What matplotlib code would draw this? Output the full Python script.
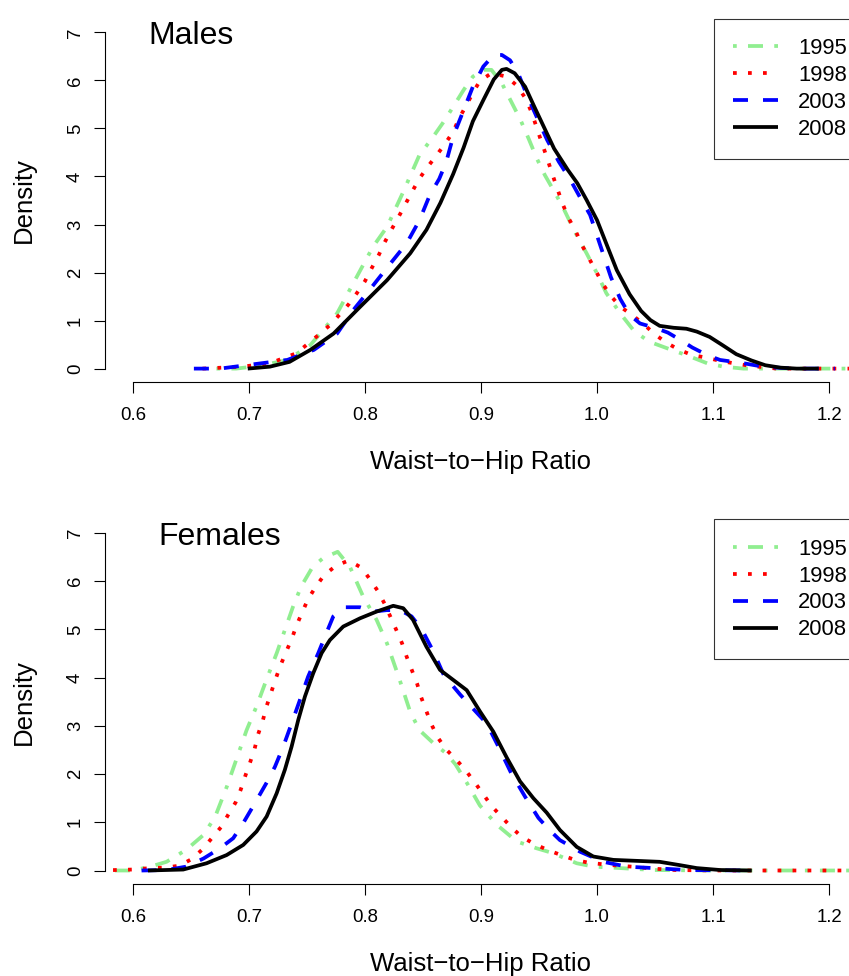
import matplotlib
matplotlib.use("Agg")
import matplotlib.pyplot as plt

plt.rcParams['font.family'] = ['Liberation Sans', 'DejaVu Sans']

years = ["1995", "1998", "2003", "2008"]
colors = ["#90EE90", "#FF0000", "#0000FF", "#000000"]
line_styles = [(0, (1, 3, 4, 3)), (0, (1, 3)), (0, (4, 4)), "-"]

x_ticks = [0.6, 0.7, 0.8, 0.9, 1.0, 1.1, 1.2]
x_tick_labels = ["0.6", "0.7", "0.8", "0.9", "1.0", "1.1", "1.2"]
y_ticks = [0, 1, 2, 3, 4, 5, 6, 7]

# ---- Males: kernel density of waist-to-hip ratio by survey year ----
male_1995_x = [0.672, 0.689, 0.710, 0.733, 0.753, 0.776, 0.790, 0.807, 0.819, 0.833,
               0.847, 0.858, 0.867, 0.876, 0.885, 0.893, 0.902, 0.909, 0.918, 0.926,
               0.934, 0.941, 0.948, 0.955, 0.964, 0.971, 0.980, 0.991, 1.000, 1.008,
               1.020, 1.032, 1.045, 1.063, 1.077, 1.095, 1.109, 1.126, 1.150, 1.180,
               1.210, 1.230]
male_1995_y = [0.00, 0.00, 0.06, 0.18, 0.49, 1.15, 1.78, 2.54, 2.95, 3.68,
               4.45, 4.80, 5.11, 5.45, 5.80, 6.08, 6.22, 6.22, 5.94, 5.56,
               5.18, 4.79, 4.38, 4.03, 3.65, 3.34, 2.89, 2.40, 1.98, 1.57,
               1.15, 0.78, 0.56, 0.40, 0.28, 0.11, 0.04, 0.00, 0.00, 0.00,
               0.00, 0.00]

male_1998_x = [0.660, 0.694, 0.718, 0.741, 0.760, 0.770, 0.778, 0.786, 0.793, 0.800,
               0.806, 0.812, 0.817, 0.823, 0.829, 0.835, 0.841, 0.847, 0.854, 0.862,
               0.869, 0.876, 0.881, 0.887, 0.893, 0.899, 0.909, 0.922, 0.931, 0.938,
               0.943, 0.947, 0.951, 0.955, 0.959, 0.963, 0.967, 0.971, 0.976, 0.982,
               0.987, 0.993, 0.999, 1.005, 1.012, 1.020, 1.030, 1.040, 1.049, 1.059,
               1.070, 1.082, 1.094, 1.106, 1.118, 1.131, 1.143, 1.155, 1.190, 1.230]
male_1998_y = [0.00, 0.04, 0.11, 0.32, 0.70, 0.91, 1.12, 1.34, 1.57, 1.82,
               2.10, 2.37, 2.63, 2.90, 3.16, 3.43, 3.70, 3.96, 4.20, 4.45,
               4.68, 4.93, 5.20, 5.47, 5.74, 5.99, 6.15, 6.08, 5.89, 5.64,
               5.37, 5.09, 4.80, 4.52, 4.23, 3.94, 3.66, 3.39, 3.11, 2.84,
               2.57, 2.30, 2.03, 1.76, 1.51, 1.29, 1.12, 0.93, 0.73, 0.55,
               0.40, 0.28, 0.23, 0.16, 0.11, 0.06, 0.03, 0.00, 0.00, 0.00]

male_2003_x = [0.6526, 0.675, 0.704, 0.733, 0.756, 0.776, 0.790, 0.804, 0.822, 0.836,
               0.847, 0.856, 0.864, 0.870, 0.876, 0.885, 0.893, 0.902, 0.911, 0.918,
               0.925, 0.932, 0.939, 0.948, 0.957, 0.967, 0.977, 0.985, 0.994, 1.003,
               1.012, 1.020, 1.028, 1.037, 1.051, 1.061, 1.073, 1.082, 1.095, 1.106,
               1.118, 1.129, 1.143, 1.155, 1.170, 1.205]
male_2003_y = [0.00, 0.00, 0.09, 0.18, 0.39, 0.73, 1.22, 1.64, 2.19, 2.61,
               3.09, 3.62, 3.95, 4.30, 4.83, 5.38, 5.87, 6.29, 6.53, 6.53,
               6.42, 6.15, 5.73, 5.24, 4.76, 4.31, 3.93, 3.58, 3.20, 2.55,
               1.90, 1.45, 1.12, 0.94, 0.84, 0.75, 0.58, 0.44, 0.28, 0.18,
               0.14, 0.10, 0.04, 0.02, 0.00, 0.00]

male_2008_x = [0.699, 0.718, 0.735, 0.753, 0.773, 0.796, 0.819, 0.839, 0.853, 0.865,
               0.876, 0.885, 0.893, 0.902, 0.911, 0.918, 0.922, 0.929, 0.938, 0.946,
               0.954, 0.963, 0.975, 0.983, 0.991, 1.000, 1.008, 1.017, 1.028, 1.038,
               1.046, 1.054, 1.066, 1.077, 1.086, 1.097, 1.108, 1.120, 1.133, 1.145,
               1.158, 1.172, 1.191]
male_2008_y = [0.00, 0.04, 0.14, 0.39, 0.73, 1.29, 1.84, 2.40, 2.89, 3.45,
               4.05, 4.60, 5.15, 5.59, 6.02, 6.22, 6.24, 6.15, 5.87, 5.45,
               5.04, 4.58, 4.13, 3.86, 3.51, 3.09, 2.60, 2.05, 1.55, 1.20,
               1.01, 0.89, 0.85, 0.83, 0.77, 0.66, 0.49, 0.30, 0.17, 0.07,
               0.02, 0.00, 0.00]

# ---- Females ----
female_1995_x = [0.5716, 0.600, 0.615, 0.629, 0.646, 0.661, 0.671, 0.681, 0.689, 0.698,
                 0.707, 0.715, 0.724, 0.731, 0.738, 0.745, 0.755, 0.764, 0.7765, 0.787,
                 0.7985, 0.810, 0.819, 0.829, 0.839, 0.847, 0.859, 0.870, 0.878, 0.888,
                 0.899, 0.9135, 0.931, 0.948, 0.962, 0.9825, 0.997, 1.020, 1.049, 1.100,
                 1.230]
female_1995_y = [0.00, 0.00, 0.08, 0.18, 0.43, 0.74, 1.12, 1.74, 2.29, 2.91,
                 3.43, 3.95, 4.51, 4.99, 5.47, 5.89, 6.30, 6.48, 6.61, 6.30,
                 5.68, 5.20, 4.71, 4.02, 3.29, 2.91, 2.64, 2.43, 2.20, 1.81,
                 1.35, 0.95, 0.60, 0.46, 0.36, 0.15, 0.08, 0.05, 0.01, 0.00,
                 0.00]

female_1998_x = [0.570, 0.600, 0.615, 0.628, 0.640, 0.651, 0.660, 0.668, 0.676, 0.682,
                 0.6885, 0.693, 0.697, 0.701, 0.705, 0.708, 0.712, 0.715, 0.719, 0.723,
                 0.727, 0.732, 0.737, 0.741, 0.746, 0.751, 0.758, 0.765, 0.775, 0.786,
                 0.797, 0.804, 0.811, 0.817, 0.822, 0.827, 0.832, 0.836, 0.8405, 0.845,
                 0.8485, 0.853, 0.8575, 0.863, 0.870, 0.879, 0.887, 0.8945, 0.902, 0.909,
                 0.9175, 0.926, 0.935, 0.946, 0.957, 0.969, 0.981, 0.993, 1.005, 1.018,
                 1.030, 1.043, 1.054, 1.067, 1.100, 1.230]
female_1998_y = [0.00, 0.02, 0.05, 0.06, 0.10, 0.24, 0.44, 0.67, 0.90, 1.15,
                 1.41, 1.68, 1.97, 2.24, 2.53, 2.83, 3.11, 3.39, 3.68, 3.97,
                 4.24, 4.53, 4.81, 5.08, 5.36, 5.63, 5.90, 6.13, 6.32, 6.43,
                 6.28, 6.05, 5.80, 5.53, 5.26, 4.99, 4.71, 4.43, 4.15, 3.87,
                 3.59, 3.30, 3.02, 2.75, 2.51, 2.29, 2.07, 1.83, 1.58, 1.34,
                 1.12, 0.90, 0.70, 0.55, 0.43, 0.32, 0.22, 0.16, 0.13, 0.10,
                 0.08, 0.05, 0.03, 0.01, 0.00, 0.00]

female_2003_x = [0.6075, 0.629, 0.646, 0.661, 0.675, 0.6865, 0.695, 0.705, 0.715, 0.7224,
                 0.7296, 0.7368, 0.744, 0.751, 0.7598, 0.766, 0.7727, 0.7826, 0.7957, 0.8072,
                 0.8187, 0.8302, 0.8402, 0.849, 0.859, 0.868, 0.882, 0.8934, 0.9049, 0.915,
                 0.926, 0.938, 0.9495, 0.959, 0.968, 0.9853, 1.0054, 1.0256, 1.0486, 1.0773,
                 1.132]
female_2003_y = [0.00, 0.01, 0.08, 0.25, 0.46, 0.67, 0.98, 1.39, 1.81, 2.15,
                 2.57, 3.05, 3.54, 4.02, 4.51, 4.88, 5.27, 5.46, 5.46, 5.37,
                 5.40, 5.40, 5.27, 5.00, 4.54, 4.05, 3.65, 3.35, 3.05, 2.57,
                 2.02, 1.53, 1.09, 0.84, 0.63, 0.39, 0.18, 0.08, 0.05, 0.01,
                 0.00]

female_2008_x = [0.613, 0.6434, 0.6635, 0.6808, 0.6951, 0.7066, 0.7153, 0.7239, 0.731, 0.7368,
                 0.7425, 0.7483, 0.7554, 0.7627, 0.7698, 0.7813, 0.7957, 0.810, 0.8244, 0.833,
                 0.8414, 0.853, 0.8647, 0.8762, 0.8877, 0.8991, 0.9106, 0.922, 0.9336, 0.9451,
                 0.9566, 0.968, 0.9825, 0.9968, 1.0141, 1.0342, 1.054, 1.0716, 1.0859, 1.106,
                 1.1333]
female_2008_y = [0.00, 0.02, 0.15, 0.32, 0.53, 0.81, 1.12, 1.60, 2.09, 2.57,
                 3.12, 3.61, 4.09, 4.51, 4.78, 5.06, 5.23, 5.37, 5.49, 5.44,
                 5.20, 4.64, 4.16, 3.95, 3.74, 3.30, 2.88, 2.35, 1.85, 1.50,
                 1.20, 0.84, 0.49, 0.29, 0.22, 0.20, 0.18, 0.11, 0.05, 0.01,
                 0.00]

male_curves = [(male_1995_x, male_1995_y), (male_1998_x, male_1998_y),
               (male_2003_x, male_2003_y), (male_2008_x, male_2008_y)]
female_curves = [(female_1995_x, female_1995_y), (female_1998_x, female_1998_y),
                 (female_2003_x, female_2003_y), (female_2008_x, female_2008_y)]

W, H = 849, 976
fig = plt.figure(figsize=(W / 100, H / 100), dpi=100)


def panel(top_px, bottom_px, curves, title, title_x):
    left_px, right_px = 105, 857
    ax = fig.add_axes([left_px / W, 1 - bottom_px / H,
                       (right_px - left_px) / W, (bottom_px - top_px) / H])
    for (xs, ys), year, col, ls in zip(curves, years, colors, line_styles):
        ax.plot(xs, ys, color=col, linestyle=ls, linewidth=2.7, label=year,
                solid_capstyle="butt", dash_capstyle="butt",
                solid_joinstyle="round")
    ax.set_xlim(0.576, 1.224)
    ax.set_ylim(-0.28, 7.28)

    for side in ("top", "right"):
        ax.spines[side].set_visible(False)
    ax.spines["left"].set_bounds(0, 7)
    ax.spines["bottom"].set_bounds(0.6, 1.2)
    for side in ("left", "bottom"):
        ax.spines[side].set_linewidth(0.8)

    ax.set_xticks(x_ticks)
    ax.set_xticklabels(x_tick_labels)
    ax.set_yticks(y_ticks)
    ax.tick_params(axis="both", direction="out", length=8.2, width=0.8,
                   labelsize=13.4, color="black")
    ax.tick_params(axis="x", pad=10)
    ax.tick_params(axis="y", pad=7, labelrotation=90)
    for lbl in ax.get_yticklabels():
        lbl.set_verticalalignment("center")

    ax.set_xlabel("Waist\u2212to\u2212Hip Ratio", fontsize=18.5, va="baseline")
    ax.xaxis.set_label_coords(0.5, -87 / (bottom_px - top_px))
    ax.set_ylabel("Density", fontsize=18.5, va="center", ha="center",
                  rotation_mode="default")
    ax.yaxis.set_label_coords((23.5 - left_px) / (right_px - left_px), 0.5)

    ax.text(title_x, 6.76, title, fontsize=23, ha="center", va="baseline")

    leg = ax.legend(loc="upper left",
                    bbox_to_anchor=((714 - left_px) / (right_px - left_px), 1.0),
                    borderaxespad=0, fontsize=15.8, frameon=True, fancybox=False,
                    edgecolor="black", handlelength=2.05, handletextpad=0.91,
                    labelspacing=0.27, borderpad=0.87)
    leg.get_frame().set_linewidth(0.8)
    return ax


panel(18.95, 382.05, male_curves, "Males", 0.65)
panel(519.5, 884.0, female_curves, "Females", 0.675)

fig.savefig("out.png", dpi=100)
